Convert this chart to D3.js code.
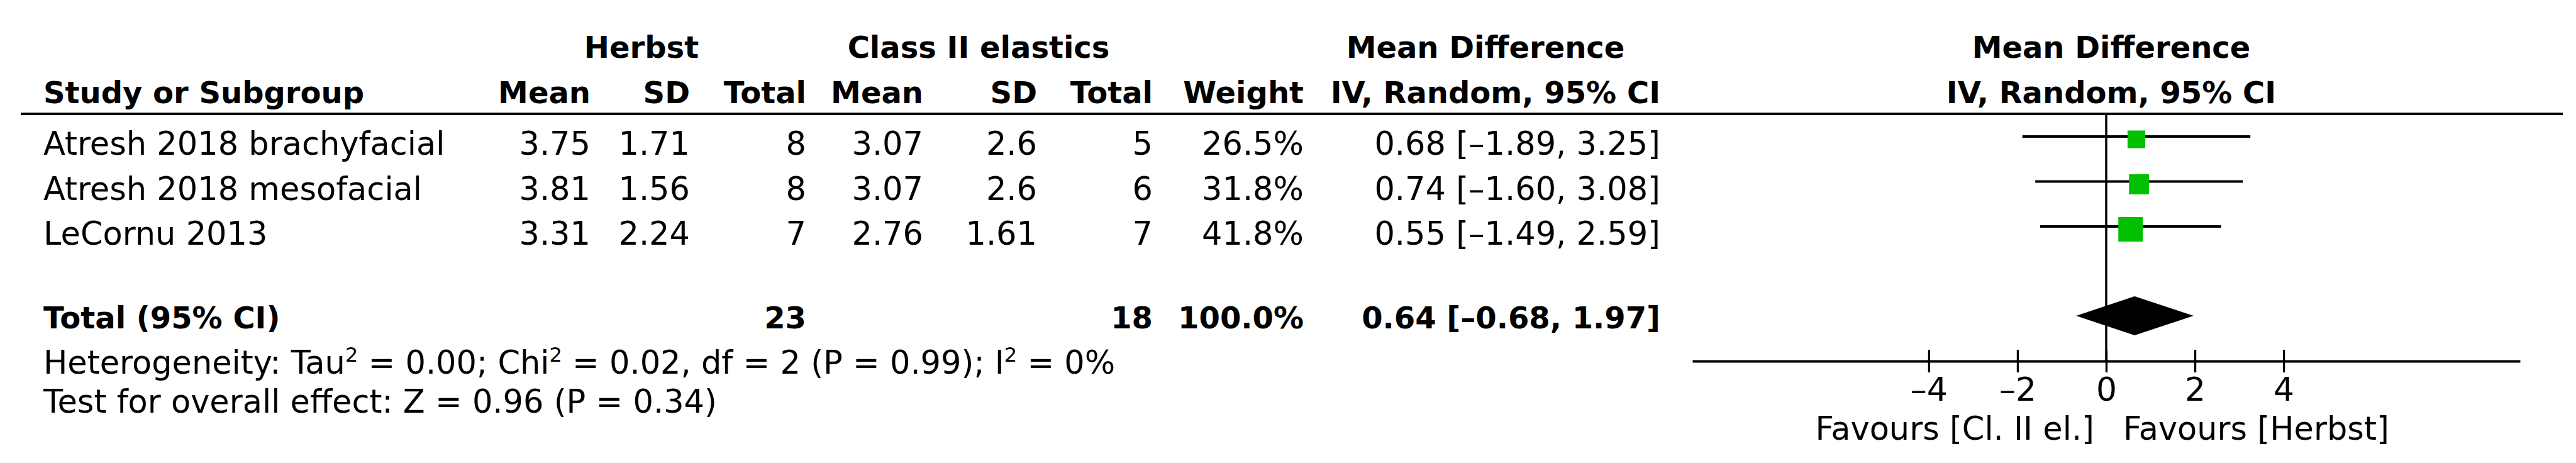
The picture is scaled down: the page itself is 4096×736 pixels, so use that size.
<!DOCTYPE html>
<html>
<head>
<meta charset="utf-8">
<script src="https://cdn.jsdelivr.net/npm/d3@7"></script>
<style>
  html, body { margin: 0; padding: 0; background: #fff; }
  svg { display: block; }
</style>
</head>
<body>
<svg id="chart"></svg>
<script>
// Forest plot — Herbst vs Class II elastics, mean difference (IV, random)
const studies = ["Atresh 2018 brachyfacial", "Atresh 2018 mesofacial", "LeCornu 2013"];
const herbstMean = [3.75, 3.81, 3.31];
const herbstSD = [1.71, 1.56, 2.24];
const herbstN = [8, 8, 7];
const ctrlMean = [3.07, 3.07, 2.76];
const ctrlSD = [2.6, 2.6, 1.61];
const ctrlN = [5, 6, 7];
const weights = [26.5, 31.8, 41.8];
const md = [0.68, 0.74, 0.55];
const mdLow = [-1.89, -1.6, -1.49];
const mdHigh = [3.25, 3.08, 2.59];

const totalN = [23, 18];
const totalWeight = 100.0;
const totalMd = [0.64, -0.68, 1.97]; // estimate, low, high
const hetStats = { tau2: "0.00", chi2: "0.02", df: 2, p: "0.99", i2: 0 };
const overall = { z: "0.96", p: "0.34" };

const axisTicks = [-4, -2, 0, 2, 4];
const axisDomain = [-9.33, 9.33];
const favourLabels = ["Favours [Cl. II el.]", "Favours [Herbst]"];

const W = 4096, H = 736;
const FONT = "'DejaVu Sans', Verdana, sans-serif";
const REG = 51, BOLD = 48;

const svg = d3.select("#chart").attr("width", W).attr("height", H);
svg.append("rect").attr("width", W).attr("height", H).attr("fill", "#fff");

function label(x, y, s, o = {}) {
  return svg.append("text")
    .attr("x", x).attr("y", y)
    .attr("font-family", FONT)
    .attr("font-size", o.bold ? BOLD : (o.size || REG))
    .attr("font-weight", o.bold ? "bold" : "normal")
    .attr("text-anchor", o.anchor || "start")
    .attr("fill", "#000")
    .text(s);
}

const dash = (v, d = 2) => (v < 0 ? "\u2013" : "") + Math.abs(v).toFixed(d);
const ciText = (m, l, h) => `${dash(m)} [${dash(l)}, ${dash(h)}]`;
const pct = d3.format(".1f");

// column right edges
const col = { hMean: 939, hSD: 1097, hN: 1282, cMean: 1468, cSD: 1649, cN: 1833, w: 2073, ci: 2640 };
const leftX = 69;

// header
label(1020, 92, "Herbst", { bold: true, anchor: "middle" });
label(1556, 92, "Class II elastics", { bold: true, anchor: "middle" });
label(2362, 92, "Mean Difference", { bold: true, anchor: "middle" });
label(leftX, 164, "Study or Subgroup", { bold: true });
[["hMean", "Mean"], ["hSD", "SD"], ["hN", "Total"], ["cMean", "Mean"], ["cSD", "SD"],
 ["cN", "Total"], ["w", "Weight"], ["ci", "IV, Random, 95% CI"]].forEach(([k, t]) =>
  label(col[k], 164, t, { bold: true, anchor: "end" }));

svg.append("line")
  .attr("x1", 33).attr("x2", 4075).attr("y1", 181).attr("y2", 181)
  .attr("stroke", "#000").attr("stroke-width", 4);

// rows
const y = d3.scalePoint().domain(studies).range([217, 360]);
const rows = studies.map((s, i) => ({
  s, i, cells: [
    ["hMean", herbstMean[i]], ["hSD", herbstSD[i]], ["hN", herbstN[i]],
    ["cMean", ctrlMean[i]], ["cSD", ctrlSD[i]], ["cN", ctrlN[i]],
    ["w", pct(weights[i]) + "%"], ["ci", ciText(md[i], mdLow[i], mdHigh[i])]
  ]
}));
rows.forEach(r => {
  const by = y(r.s) + 29;
  label(leftX, by, r.s);
  r.cells.forEach(([k, v]) => label(col[k], by, String(v), { anchor: "end" }));
});

// total row
const totY = 502;
label(leftX, totY + 20, "Total (95% CI)", { bold: true });
label(col.hN, totY + 20, totalN[0], { bold: true, anchor: "end" });
label(col.cN, totY + 20, totalN[1], { bold: true, anchor: "end" });
label(col.w, totY + 20, pct(totalWeight) + "%", { bold: true, anchor: "end" });
label(col.ci, totY + 20, ciText(...totalMd), { bold: true, anchor: "end" });

// heterogeneity / overall effect lines with superscripts
function richLine(x, yy, parts) {
  const t = svg.append("text").attr("x", x).attr("y", yy)
    .attr("font-family", FONT).attr("font-size", REG).attr("fill", "#000");
  let up = false;
  parts.forEach(p => {
    const sup = typeof p === "object";
    const ts = t.append("tspan").text(sup ? p.sup : p);
    if (sup) { ts.attr("font-size", 32).attr("dy", -19); up = true; }
    else if (up) { ts.attr("dy", 19); up = false; }
  });
}
richLine(leftX, 594, [
  "Heterogeneity: Tau", { sup: "2" }, ` = ${hetStats.tau2}; Chi`, { sup: "2" },
  ` = ${hetStats.chi2}, df = ${hetStats.df} (P = ${hetStats.p}); I`, { sup: "2" }, ` = ${hetStats.i2}%`
]);
richLine(leftX, 656, [`Test for overall effect: Z = ${overall.z} (P = ${overall.p})`]);

// forest plot
const x = d3.scaleLinear().domain(axisDomain).range([2691, 4007]);
const axisY = 574;

label(x(0) + 8, 92, "Mean Difference", { bold: true, anchor: "middle" });
label(x(0) + 8, 164, "IV, Random, 95% CI", { bold: true, anchor: "middle" });

svg.append("line")
  .attr("x1", x(0)).attr("x2", x(0)).attr("y1", 183).attr("y2", axisY)
  .attr("stroke", "#000").attr("stroke-width", 3.5);

const size = d3.scaleLinear().domain([0, 100]).range([9, 81]);
const pg = svg.append("g");
pg.selectAll("line.ci").data(rows).join("line")
  .attr("class", "ci")
  .attr("x1", d => x(mdLow[d.i])).attr("x2", d => x(mdHigh[d.i]))
  .attr("y1", d => y(d.s)).attr("y2", d => y(d.s))
  .attr("stroke", "#000").attr("stroke-width", 4);
pg.selectAll("rect.sq").data(rows).join("rect")
  .attr("class", "sq")
  .attr("x", d => x(md[d.i]) - size(weights[d.i]) / 2)
  .attr("y", d => y(d.s) + 4.5 - size(weights[d.i]) / 2)
  .attr("width", d => size(weights[d.i]))
  .attr("height", d => size(weights[d.i]))
  .attr("fill", "#00c000");

const [tm, tl, th] = totalMd;
pg.append("path")
  .attr("d", `M${x(tl)},${totY}L${x(tm)},${totY - 31}L${x(th)},${totY}L${x(tm)},${totY + 31}Z`)
  .attr("fill", "#000");

const ax = svg.append("g").attr("transform", `translate(0,${axisY})`)
  .call(d3.axisBottom(x).tickValues(axisTicks).tickSizeInner(18).tickSizeOuter(0)
    .tickFormat(d => (d < 0 ? "\u2013" : "") + Math.abs(d)));
ax.select(".domain").attr("stroke", "#000").attr("stroke-width", 4);
ax.selectAll(".tick line").attr("y1", -18).attr("y2", 18).attr("stroke", "#000").attr("stroke-width", 3.3);
ax.selectAll(".tick text")
  .attr("y", 63).attr("dy", 0)
  .attr("font-family", FONT).attr("font-size", 52).attr("fill", "#000");

label(x(0) - 19, 699, favourLabels[0], { anchor: "end", size: 51 });
label(x(0) + 27, 699, favourLabels[1], { size: 51 });
</script>
</body>
</html>
